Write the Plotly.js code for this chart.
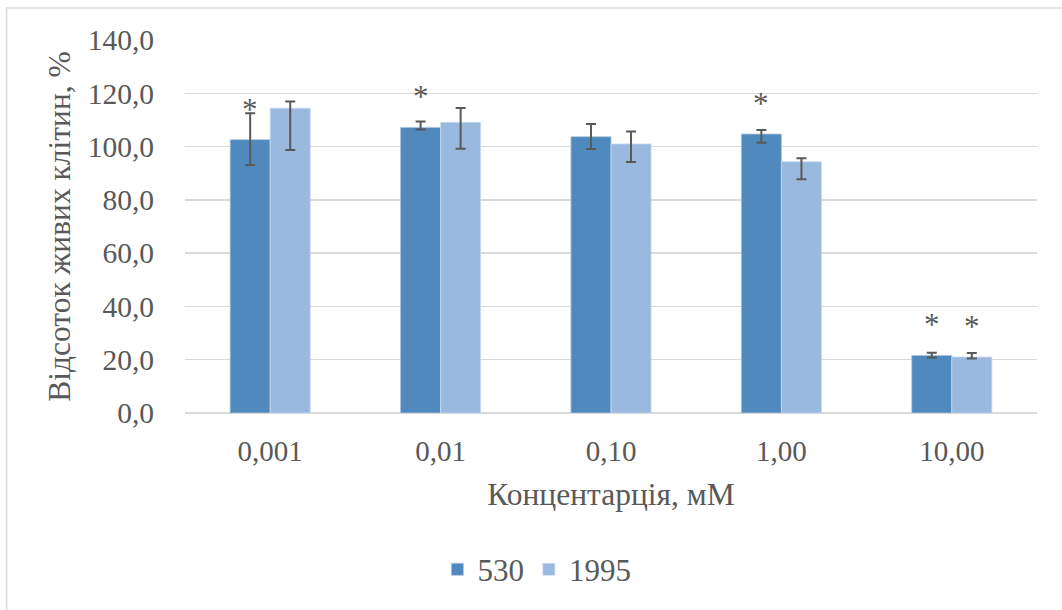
<!DOCTYPE html>
<html>
<head>
<meta charset="utf-8">
<script src="https://cdn.plot.ly/plotly-3.0.1.min.js"></script>
<style>html,body{margin:0;padding:0;background:#fff;}#chart{width:1062px;height:610px;}</style>
</head>
<body>
<div id="chart"></div>
<script>
// ---- data ----
const categories = ["0,001", "0,01", "0,10", "1,00", "10,00"];
const seriesNames = ["530", "1995"];
const values530 = [102.6, 107.2, 103.7, 104.7, 21.6];
const errPlus530 = [9.9, 2.2, 4.8, 1.5, 1.0];
const errMinus530 = [9.5, 0.8, 4.6, 3.3, 0.8];
const values1995 = [114.4, 109.1, 101.0, 94.3, 21.0];
const errPlus1995 = [2.5, 5.4, 4.7, 1.3, 1.5];
const errMinus1995 = [15.7, 9.9, 6.8, 6.6, 0.5];
const sig530 = [true, true, false, true, true];
const sig1995 = [false, false, false, false, true];
const yTickVals = [0, 20, 40, 60, 80, 100, 120, 140];
const yTickText = ["0,0", "20,0", "40,0", "60,0", "80,0", "100,0", "120,0", "140,0"];

const FONT = "Liberation Serif";
const GREY = "#595959";
const c530 = "#4F89BD";
const c1995 = "#99B9DF";

const errStyle = {type: "data", symmetric: false, color: GREY, thickness: 2, width: 5};

const traces = [
  {
    type: "bar", name: seriesNames[0], x: categories, y: values530,
    marker: {color: c530, line: {color: "#A9C4E0", width: 0.8}},
    error_y: Object.assign({array: errPlus530, arrayminus: errMinus530}, errStyle),
    hoverinfo: "none"
  },
  {
    type: "bar", name: seriesNames[1], x: categories, y: values1995,
    marker: {color: c1995, line: {color: "#C9DAEE", width: 0.8}},
    error_y: Object.assign({array: errPlus1995, arrayminus: errMinus1995}, errStyle),
    hoverinfo: "none"
  }
];

const annotations = [];
function addStars(vals, sig, shift) {
  vals.forEach((v, i) => {
    if (!sig[i]) return;
    annotations.push({
      x: categories[i], y: v, xref: "x", yref: "y",
      text: "*", showarrow: false, xshift: shift, yshift: 11,
      yanchor: "bottom",
      font: {family: FONT, size: 31, color: GREY}
    });
  });
}
addStars(values530, sig530, -20);
addStars(values1995, sig1995, 20);

const layout = {
  width: 1062, height: 610,
  margin: {l: 185, r: 25, t: 40, b: 197},
  paper_bgcolor: "#fff", plot_bgcolor: "#fff",
  font: {family: FONT, size: 29, color: GREY},
  barmode: "group", bargap: 0.53, bargroupgap: 0,
  showlegend: true,
  legend: {
    orientation: "h", x: 0.413, xanchor: "center", y: -0.42, yanchor: "middle",
    font: {family: FONT, size: 31, color: GREY}, itemwidth: 30, traceorder: "normal"
  },
  xaxis: {
    type: "category", showgrid: false, zeroline: false, showline: false,
    ticks: "outside", ticklen: 12, tickcolor: "rgba(0,0,0,0)",
    tickfont: {family: FONT, size: 29, color: GREY},
    title: {text: "Концентарція, мМ", font: {family: FONT, size: 31.5, color: GREY}, standoff: 17}
  },
  yaxis: {
    range: [0, 140], tickvals: yTickVals, ticktext: yTickText,
    showgrid: true, gridcolor: "#D9D9D9", gridwidth: 1.5,
    zeroline: true, zerolinecolor: "#D9D9D9", zerolinewidth: 1.5, showline: false,
    ticks: "outside", ticklen: 24, tickcolor: "rgba(0,0,0,0)",
    tickfont: {family: FONT, size: 29.5, color: GREY},
    title: {text: "Відсоток живих клітин, %", font: {family: FONT, size: 31.5, color: GREY}, standoff: 7}
  },
  annotations: annotations,
  shapes: [{
    type: "rect", xref: "paper", yref: "paper",
    x0: -0.2094, x1: 1.2, y0: -1, y1: 1.0857,
    line: {color: "#D9D9D9", width: 1.5}, fillcolor: "rgba(0,0,0,0)", layer: "below"
  }]
};

Plotly.newPlot("chart", traces, layout, {displayModeBar: false, staticPlot: true});
</script>
</body>
</html>
